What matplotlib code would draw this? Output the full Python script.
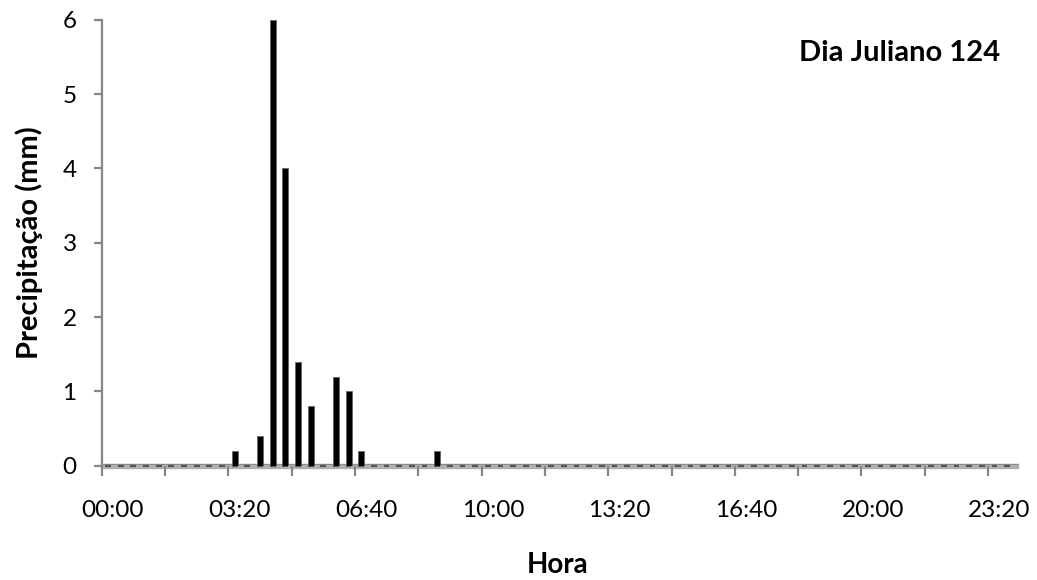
import numpy as np
import matplotlib.pyplot as plt
from matplotlib.transforms import ScaledTranslation

# precipitation every 20 minutes, day 124
rain_times = ["03:20", "04:00", "04:20", "04:40", "05:00", "05:20",
              "06:00", "06:20", "06:40", "08:40"]
rain_mm = [0.2, 0.4, 6.0, 4.0, 1.4, 0.8, 1.2, 1.0, 0.2, 0.2]

hours = ["{:02d}:{:02d}".format(m // 60, m % 60) for m in range(0, 24 * 60, 20)]
label_hours = ["00:00", "03:20", "06:40", "10:00", "13:20", "16:40", "20:00", "23:20"]
title = "Dia Juliano 124"

values = np.zeros(len(hours))
for t, v in zip(rain_times, rain_mm):
    values[hours.index(t)] = v

plt.rcParams["font.family"] = ["Lato", "DejaVu Sans"]
gray = "#868686"

fig = plt.figure(figsize=(10.37, 5.8), dpi=100)
ax = fig.add_axes([0.098, 0.197, 0.8793, 0.7688])

x = np.arange(len(hours)) + 0.5

# floor of the 3d chart
ax.axhspan(-0.03, 0.03, xmin=0, xmax=1.005, color="#b0b0b0", clip_on=False, zorder=1)
ax.axhline(0.03, xmin=0, xmax=1.005, color="#8c8c8c", lw=0.8, clip_on=False, zorder=1)
ax.hlines(np.zeros(len(hours)), x - 0.23, x + 0.23, color="#555555", lw=1.6,
          clip_on=False, zorder=2)

ax.bar(x, values, width=0.47, color="black", edgecolor="#666666", lw=0.6, zorder=3)

ax.set_xlim(0, len(hours))
ax.set_ylim(0, 6)

for s in ["top", "right"]:
    ax.spines[s].set_visible(False)
ax.spines["left"].set_color(gray)
ax.spines["left"].set_linewidth(1.6)
ax.spines["bottom"].set_visible(False)

ax.set_yticks(range(7))
ax.tick_params(axis="y", direction="out", length=6, width=1.6, color=gray,
               labelsize=17.5, pad=12)

ax.set_xticks(np.arange(0, len(hours), 5))
ax.set_xticklabels([])
ax.tick_params(axis="x", which="major", direction="out", length=7, width=1.6,
               color=gray, pad=2)
label_pos = [hours.index(h) + 0.5 for h in label_hours]
ax.set_xticks(label_pos, minor=True)
ax.set_xticklabels(label_hours, minor=True)
ax.tick_params(axis="x", which="minor", length=0, labelsize=17.5, pad=25)
shift = ScaledTranslation(5 / 100, 0, fig.dpi_scale_trans)
for lab in ax.get_xticklabels(minor=True):
    lab.set_transform(lab.get_transform() + shift)

ax.set_ylabel("Precipitação (mm)", fontsize=21, fontweight="bold", labelpad=14)
ax.set_xlabel("Hora", fontsize=20, fontweight="bold", labelpad=22)
ax.text(0.985, 0.955, title, transform=ax.transAxes, ha="right", va="top",
        fontsize=21, fontweight="bold")

plt.savefig("out.png", dpi=100)
